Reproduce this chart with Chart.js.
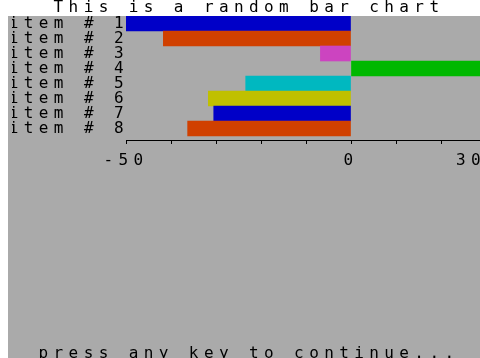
<!DOCTYPE html>
<html>
<head>
<meta charset="utf-8">
<script src="https://cdn.jsdelivr.net/npm/chart.js@4"></script>
<style>
  html, body { margin: 0; padding: 0; background: #fff; overflow: hidden; }
  canvas { display: block; }
</style>
</head>
<body>
<canvas id="barChart" width="504" height="362"></canvas>
<script>
const categories = ['item # 1', 'item # 2', 'item # 3', 'item # 4', 'item # 5', 'item # 6', 'item # 7', 'item # 8'];
const values = [-50, -41.7, -6.8, 30, -23.4, -31.7, -30.5, -36.3];
const barColors = ['#0000c8', '#d04000', '#cc44c0', '#00b800', '#00b8c0', '#c0c000', '#0000c8', '#d04000'];
const xMin = -50;
const xMax = 30;
const xStep = 10;
const xLabelValues = [-50, 0, 30];

const zxFont = { family: 'DejaVu Sans Mono', size: 16, weight: 'normal', lineHeight: 1 };
const spacing = '5.4px';

// spectrum look: wide letter pitch + grey screen behind the chart
const zxLook = {
    id: 'zxLook',
    beforeUpdate(chart) { chart.ctx.letterSpacing = spacing; },
    beforeDraw(chart) {
        const ctx = chart.ctx;
        ctx.letterSpacing = spacing;
        ctx.save();
        ctx.fillStyle = '#aaaaaa';
        ctx.fillRect(8, chart.chartArea.top, chart.width - 8, chart.height - chart.chartArea.top);
        ctx.restore();
    }
};

const ctx = document.getElementById('barChart').getContext('2d');
const barChart = new Chart(ctx, {
    type: 'bar',
    data: {
        datasets: [{
            data: categories.map((c, i) => ({ x: values[i], y: i })),
            backgroundColor: barColors,
            borderWidth: 0,
            barPercentage: 1,
            categoryPercentage: 1
        }]
    },
    options: {
        indexAxis: 'y',
        responsive: false,
        animation: false,
        layout: { padding: { left: 12, top: 0, right: 18, bottom: 0 } },
        scales: {
            x: {
                type: 'linear',
                min: xMin,
                max: xMax,
                // let the last label run off the screen like the original
                afterFit: (scale) => { scale.paddingRight = 0; },
                grid: { drawOnChartArea: false, tickLength: 4, color: '#000' },
                border: { color: '#000', width: 1 },
                ticks: {
                    stepSize: xStep,
                    autoSkip: false,
                    maxRotation: 0,
                    padding: 9,
                    color: '#000',
                    font: zxFont,
                    callback: (v) => xLabelValues.includes(v) ? (v === xMax ? v + '  ' : String(v)) : ''
                }
            },
            y: {
                type: 'linear',
                reverse: true,
                offset: false,
                min: -0.5,
                max: categories.length - 0.5 + 4 / 15,
                afterBuildTicks: (scale) => { scale.ticks = categories.map((c, i) => ({ value: i })); },
                afterFit: (scale) => { scale.width = 114; },
                grid: { display: false },
                border: { display: false },
                ticks: {
                    autoSkip: false,
                    padding: -11,
                    color: '#000',
                    font: zxFont,
                    callback: (v) => categories[v]
                }
            }
        },
        plugins: {
            legend: { display: false },
            tooltip: { enabled: false },
            title: {
                display: true,
                text: 'This is a random bar chart',
                color: '#000',
                font: zxFont,
                padding: { top: 0, bottom: 0 }
            },
            subtitle: {
                display: true,
                position: 'bottom',
                text: 'press any key to continue...',
                color: '#000',
                font: zxFont,
                padding: { top: 168, bottom: 0 }
            }
        }
    },
    plugins: [zxLook]
});
</script>
</body>
</html>
